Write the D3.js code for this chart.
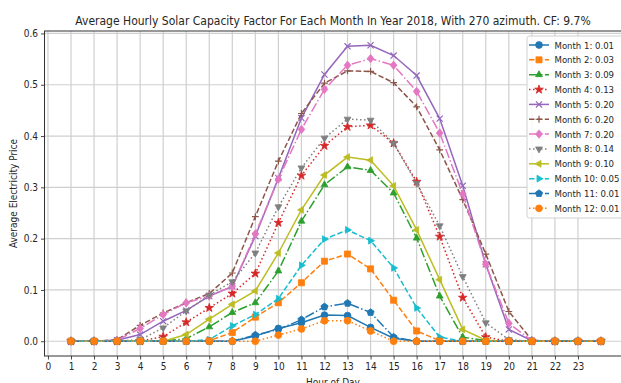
<!DOCTYPE html>
<html>
<head>
<meta charset="utf-8">
<script src="https://cdn.jsdelivr.net/npm/d3@7"></script>
<style>
  html, body { margin: 0; padding: 0; background: #fff; overflow: hidden; }
  svg { display: block; }
  text { font-family: "DejaVu Sans Condensed", "DejaVu Sans", sans-serif; font-stretch: condensed; fill: #262626; }
</style>
</head>
<body>
<svg id="chart" width="621" height="383"></svg>
<script>
// Hour of day for each sample (1..24)
const hours = d3.range(1, 25);
const xTickLabels = d3.range(0, 24);
const yTicks = [0.0, 0.1, 0.2, 0.3, 0.4, 0.5, 0.6];

// Average hourly capacity factor per month
const month1  = [0,0,0,0,0,0,0,0,0.010,0.025,0.036,0.051,0.050,0.027,0.006,0,0,0,0,0,0,0,0,0];
const month2  = [0,0,0,0,0,0,0.001,0.017,0.047,0.075,0.114,0.156,0.170,0.141,0.080,0.020,0.001,0,0,0,0,0,0,0];
const month3  = [0,0,0,0,0,0.005,0.028,0.056,0.075,0.137,0.234,0.305,0.340,0.333,0.289,0.201,0.088,0.008,0.001,0,0,0,0,0];
const month4  = [0,0,0,0,0.009,0.037,0.065,0.093,0.132,0.231,0.323,0.381,0.418,0.421,0.386,0.311,0.204,0.085,0.008,0,0,0,0,0];
const month5  = [0,0,0.002,0.013,0.039,0.060,0.088,0.107,0.205,0.318,0.435,0.520,0.575,0.577,0.557,0.518,0.434,0.303,0.150,0.023,0.001,0,0,0];
const month6  = [0,0,0.003,0.031,0.055,0.075,0.093,0.133,0.243,0.351,0.444,0.503,0.527,0.526,0.504,0.457,0.373,0.276,0.170,0.058,0.002,0,0,0];
const month7  = [0,0,0.002,0.025,0.052,0.075,0.088,0.107,0.209,0.316,0.413,0.491,0.538,0.551,0.538,0.487,0.406,0.287,0.150,0.035,0.001,0,0,0];
const month8  = [0,0,0,0.003,0.026,0.059,0.090,0.116,0.172,0.262,0.338,0.396,0.433,0.431,0.386,0.308,0.225,0.126,0.036,0.003,0,0,0,0];
const month9  = [0,0,0,0,0,0.013,0.043,0.072,0.098,0.172,0.256,0.324,0.359,0.353,0.303,0.217,0.120,0.023,0.002,0,0,0,0,0];
const month10 = [0,0,0,0,0,0,0.003,0.030,0.052,0.083,0.148,0.199,0.217,0.196,0.143,0.065,0.008,0,0,0,0,0,0,0];
const month11 = [0,0,0,0,0,0,0,0,0.012,0.023,0.042,0.067,0.074,0.056,0.008,0,0,0,0,0,0,0,0,0];
const month12 = [0,0,0,0,0,0,0,0,0,0.012,0.024,0.040,0.040,0.020,0,0,0,0,0,0,0,0,0,0];

// Monthly mean capacity factor shown in the legend
const monthMeans = [0.01, 0.03, 0.09, 0.13, 0.20, 0.20, 0.20, 0.14, 0.10, 0.05, 0.01, 0.01];

const seriesValues = [month1, month2, month3, month4, month5, month6,
                      month7, month8, month9, month10, month11, month12];

const colors  = ["#1f77b4","#ff7f0e","#2ca02c","#d62728","#9467bd","#8c564b",
                 "#e377c2","#7f7f7f","#bcbd22","#17becf","#1f77b4","#ff7f0e"];
const dashes  = ["none","5.5,2.4","9.6,2.4,1.5,2.4","1.5,2.5"];
const markers = ["circle","square","triangleUp","star","cross","plus",
                 "diamond","triangleDown","triangleLeft","triangleRight","pentagon","octagon"];

const plot = { left: 44.5, right: 627.5, top: 31, bottom: 356 };
const markerSize = 6.8;

const svg = d3.select("#chart");

const x = d3.scaleLinear().domain([-0.15, 25.15]).range([plot.left, plot.right]);
const y = d3.scaleLinear().domain([-0.0288, 0.6048]).range([plot.bottom, plot.top]);

// grid
const grid = svg.append("g").attr("class", "grid");
grid.selectAll("line.vx").data(xTickLabels).join("line")
  .attr("x1", d => x(d)).attr("x2", d => x(d))
  .attr("y1", plot.top).attr("y2", plot.bottom)
  .attr("stroke", "#cfcfcf").attr("stroke-width", 1.2);
grid.selectAll("line.hy").data(yTicks).join("line")
  .attr("x1", plot.left).attr("x2", plot.right)
  .attr("y1", d => y(d)).attr("y2", d => y(d))
  .attr("stroke", "#cfcfcf").attr("stroke-width", 1.2);

// axes
const xAxis = d3.axisBottom(x).tickValues(xTickLabels).tickSize(3.5).tickPadding(3).tickFormat(d3.format("d"));
const yAxis = d3.axisLeft(y).tickValues(yTicks).tickSize(3.5).tickPadding(3).tickFormat(d3.format(".1f"));

const gx = svg.append("g").attr("transform", `translate(0,${plot.bottom})`).call(xAxis);
const gy = svg.append("g").attr("transform", `translate(${plot.left},0)`).call(yAxis);
[gx, gy].forEach(g => {
  g.attr("font-family", null);
  g.select(".domain").remove();
  g.selectAll(".tick line").attr("stroke", "#333").attr("stroke-width", 0.9);
  g.selectAll(".tick text").attr("font-size", 10).attr("fill", "#262626");
});

// frame
svg.append("rect")
  .attr("x", plot.left).attr("y", plot.top)
  .attr("width", plot.right - plot.left).attr("height", plot.bottom - plot.top)
  .attr("fill", "none").attr("stroke", "#333").attr("stroke-width", 1);

// marker shapes
function markerPath(kind, size) {
  switch (kind) {
    case "circle":  return d3.symbol(d3.symbolCircle, size * size * 0.78)();
    case "octagon": return d3.symbol(d3.symbolCircle, size * size * 0.8)();
    case "square":  return d3.symbol(d3.symbolSquare, size * size * 0.8)();
    case "diamond": {
      const r = size * 0.62;
      return `M0,${-r}L${r * 0.8},0L0,${r}L${-r * 0.8},0Z`;
    }
    case "star":    return d3.symbol(d3.symbolStar, size * size * 0.5)();
    case "cross": {
      const r = size * 0.45;
      return `M${-r},${-r}L${r},${r}M${-r},${r}L${r},${-r}`;
    }
    case "plus": {
      const r = size * 0.5;
      return `M${-r},0L${r},0M0,${-r}L0,${r}`;
    }
    case "pentagon": {
      const r = size * 0.55;
      const pts = d3.range(5).map(i => {
        const a = -Math.PI / 2 + i * 2 * Math.PI / 5;
        return [r * Math.cos(a), r * Math.sin(a)];
      });
      return "M" + pts.map(p => p.join(",")).join("L") + "Z";
    }
    default: {
      const r = size * 0.58;
      const rot = { triangleUp: 0, triangleDown: 180, triangleLeft: -90, triangleRight: 90 }[kind];
      const pts = d3.range(3).map(i => {
        const a = (-90 + rot + i * 120) * Math.PI / 180;
        return [r * Math.cos(a), r * Math.sin(a)];
      });
      return "M" + pts.map(p => p.join(",")).join("L") + "Z";
    }
  }
}

function drawMarker(g, kind, color, size) {
  const open = (kind === "cross" || kind === "plus");
  g.append("path")
    .attr("d", markerPath(kind, size))
    .attr("fill", open ? "none" : color)
    .attr("stroke", color)
    .attr("stroke-width", open ? 1.2 : 0.8);
}

// series
svg.append("clipPath").attr("id", "plotclip").append("rect")
  .attr("x", plot.left).attr("y", plot.top)
  .attr("width", plot.right - plot.left).attr("height", plot.bottom - plot.top);

const lineGen = d3.line().x((d, i) => x(hours[i])).y(d => y(d));
const seriesG = svg.append("g").attr("clip-path", "url(#plotclip)");

seriesValues.forEach((vals, s) => {
  const g = seriesG.append("g");
  g.append("path")
    .attr("d", lineGen(vals))
    .attr("fill", "none")
    .attr("stroke", colors[s])
    .attr("stroke-width", 1.5)
    .attr("stroke-dasharray", dashes[s % 4]);
  g.selectAll("g.pt").data(vals).join("g")
    .attr("transform", (d, i) => `translate(${x(hours[i])},${y(d)})`)
    .each(function () { drawMarker(d3.select(this), markers[s], colors[s], markerSize); });
});

// title and axis labels
svg.append("text")
  .attr("x", 333).attr("y", 25)
  .attr("text-anchor", "middle").attr("font-size", 12)
  .text("Average Hourly Solar Capacity Factor For Each Month In Year 2018, With 270 azimuth. CF: 9.7%");

svg.append("text")
  .attr("x", 333).attr("y", 386)
  .attr("text-anchor", "middle").attr("font-size", 10)
  .text("Hour of Day");

svg.append("text")
  .attr("transform", `translate(17,${(plot.top + plot.bottom) / 2}) rotate(-90)`)
  .attr("text-anchor", "middle").attr("font-size", 10)
  .text("Average Electricity Price");

// legend
const legend = svg.append("g").attr("transform", "translate(527,36)");
legend.append("rect")
  .attr("x", 0).attr("y", 0).attr("width", 98).attr("height", 182)
  .attr("rx", 2.5).attr("fill", "#fff").attr("fill-opacity", 0.85)
  .attr("stroke", "#d0d0d0").attr("stroke-width", 1);

monthMeans.forEach((m, s) => {
  const row = legend.append("g").attr("transform", `translate(0,${9 + s * 14.85})`);
  row.append("line")
    .attr("x1", 2).attr("x2", 22).attr("y1", 0).attr("y2", 0)
    .attr("stroke", colors[s]).attr("stroke-width", 1.5)
    .attr("stroke-dasharray", dashes[s % 4]);
  const mk = row.append("g").attr("transform", "translate(12,0)");
  drawMarker(mk, markers[s], colors[s], markerSize);
  row.append("text")
    .attr("x", 27.5).attr("y", 3.5).attr("font-size", 9.5)
    .text(`Month ${s + 1}: ${m.toFixed(2)}`);
});
</script>
</body>
</html>
